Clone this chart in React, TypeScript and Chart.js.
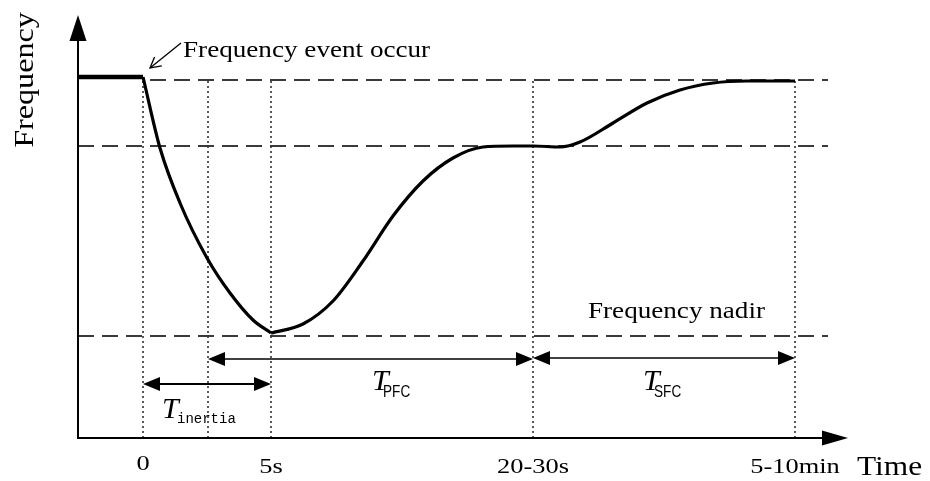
import React, { useEffect, useRef } from "react";
import { Chart, registerables } from "chart.js";

Chart.register(...registerables);

// ---- data (schematic units: x = time axis units, y = frequency units) ----
const preEventX = [0, 65];
const preEventY = [361, 361];
const dropX = [65, 82, 102, 129, 152, 175, 193];
const dropY = [361, 290, 235, 180, 145, 118, 105];
const recoveryX = [193, 225, 255, 285, 315, 345, 375, 405, 435, 455, 482, 502, 535, 569, 602, 635, 669, 717];
const recoveryY = [105, 114, 137, 177, 222, 257, 280, 291, 292, 292, 291, 296, 315, 335, 348, 355, 357, 357];
const levelY = [358, 292, 102]; // nominal, PFC-settled, nadir
const levelStartX = [72, 0, 0];
const levelEndX = 750;
const markerX = [65, 130, 193, 455, 717];
const markerTopY = [361, 358, 358, 358, 358];
const tickValues = [65, 193, 455, 717];
const tickLabels = ["0", "5s", "20-30s", "5-10min"];
const spanFrom = [65, 130, 455];
const spanTo = [193, 455, 717];
const spanY = [54, 79, 80];
const spanSub = ["inertia", "PFC", "SFC"];
const xMax = 770;
const yMax = 423;

const pts = (xs: number[], ys: number[]) => xs.map((x, i) => ({ x, y: ys[i] }));

function txt(
  ctx: CanvasRenderingContext2D,
  s: string,
  x: number,
  y: number,
  font: string,
  sx = 1,
  align: CanvasTextAlign = "left",
  rot = 0
) {
  ctx.save();
  ctx.translate(x, y);
  if (rot) ctx.rotate(rot);
  ctx.scale(sx, 1);
  ctx.font = font;
  ctx.textAlign = align;
  ctx.textBaseline = "alphabetic";
  ctx.fillStyle = "#000";
  ctx.fillText(s, 0, 0);
  ctx.restore();
}

function head(
  ctx: CanvasRenderingContext2D,
  tx: number,
  ty: number,
  dx: number,
  dy: number,
  len: number,
  hw: number
) {
  const bx = tx - dx * len;
  const by = ty - dy * len;
  const nx = -dy;
  const ny = dx;
  ctx.beginPath();
  ctx.moveTo(tx, ty);
  ctx.lineTo(bx + nx * hw, by + ny * hw);
  ctx.lineTo(bx - nx * hw, by - ny * hw);
  ctx.closePath();
  ctx.fill();
}

const overlay = {
  id: "overlay",
  afterDraw(chart: any) {
    const ctx: CanvasRenderingContext2D = chart.ctx;
    const xs = chart.scales.x;
    const ys = chart.scales.y;
    const X = (v: number) => xs.getPixelForValue(v);
    const Y = (v: number) => ys.getPixelForValue(v);
    ctx.save();
    ctx.strokeStyle = "#000";
    ctx.fillStyle = "#000";

    // axes with arrows
    const x0 = X(0);
    const y0 = Y(0);
    ctx.lineWidth = 2;
    ctx.beginPath();
    ctx.moveTo(x0, y0);
    ctx.lineTo(X(xMax) - 24, y0);
    ctx.stroke();
    head(ctx, X(xMax), y0, 1, 0, 26, 7.5);
    ctx.beginPath();
    ctx.moveTo(x0, y0 + 1);
    ctx.lineTo(x0, Y(yMax) + 24);
    ctx.stroke();
    head(ctx, x0, Y(yMax), 0, -1, 26, 8.5);

    // tick labels
    tickValues.forEach((v, i) => {
      txt(ctx, tickLabels[i], X(v), y0 + (i === 0 ? 32 : 35), "22px 'Liberation Serif'", 1.2, "center");
    });

    // axis titles
    txt(ctx, "Time", 857, y0 + 37, "28px 'Liberation Serif'", 1.12, "left");
    txt(ctx, "Frequency", 33, 80, "27px 'Liberation Serif'", 1.19, "center", -Math.PI / 2);

    // duration arrows
    spanFrom.forEach((f, i) => {
      const a = X(f);
      const b = X(spanTo[i]);
      const yy = Y(spanY[i]);
      ctx.lineWidth = i === 0 ? 2 : 1.3;
      ctx.beginPath();
      ctx.moveTo(a + 10, yy);
      ctx.lineTo(b - 10, yy);
      ctx.stroke();
      head(ctx, a, yy, -1, 0, 17, 7);
      head(ctx, b, yy, 1, 0, 17, 7);
    });

    // duration labels
    const tLeft = [162, 372, 643];
    const tBase = [418, 390, 390];
    spanSub.forEach((s, i) => {
      txt(ctx, "T", tLeft[i], tBase[i], "italic 30px 'Liberation Serif'", 1, "left");
      if (i === 0) {
        txt(ctx, s, tLeft[i] + 15, tBase[i] + 5, "14px 'Liberation Mono'", 1, "left");
      } else {
        txt(ctx, s, tLeft[i] + 11, tBase[i] + 7, "17px 'Liberation Sans'", 0.8, "left");
      }
    });

    // annotations
    txt(ctx, "Frequency event occur", 183, 57, "23px 'Liberation Serif'", 1.18, "left");
    txt(ctx, "Frequency nadir", 588, 318, "24px 'Liberation Serif'", 1.13, "left");

    // event pointer (open arrow)
    const tipX = X(72);
    const tipY = Y(370);
    const tailX = X(103);
    const tailY = Y(395);
    ctx.lineWidth = 1.3;
    ctx.beginPath();
    ctx.moveTo(tailX, tailY);
    ctx.lineTo(tipX, tipY);
    ctx.stroke();
    const ang = Math.atan2(tipY - tailY, tipX - tailX);
    ctx.beginPath();
    ctx.moveTo(tipX - 12 * Math.cos(ang - 0.5), tipY - 12 * Math.sin(ang - 0.5));
    ctx.lineTo(tipX, tipY);
    ctx.lineTo(tipX - 12 * Math.cos(ang + 0.5), tipY - 12 * Math.sin(ang + 0.5));
    ctx.stroke();
    ctx.restore();
  },
};

export default function App() {
  const ref = useRef<HTMLCanvasElement | null>(null);
  useEffect(() => {
    document.body.style.margin = "0";
    const canvas = ref.current;
    if (!canvas) return;
    const datasets: any[] = [];
    datasets.push({
      data: pts(dropX, dropY),
      borderColor: "#000",
      borderWidth: 3.2,
      cubicInterpolationMode: "monotone",
      pointRadius: 0,
      clip: false,
    });
    datasets.push({
      data: pts(recoveryX, recoveryY),
      borderColor: "#000",
      borderWidth: 3.2,
      cubicInterpolationMode: "monotone",
      pointRadius: 0,
      clip: false,
    });
    datasets.push({
      data: pts(preEventX, preEventY),
      borderColor: "#000",
      borderWidth: 4.5,
      pointRadius: 0,
      clip: false,
    });
    levelY.forEach((ly, i) => {
      datasets.push({
        data: [
          { x: levelStartX[i], y: ly },
          { x: levelEndX, y: ly },
        ],
        borderColor: "#3a3a3a",
        borderWidth: 2,
        borderDash: [16, 8],
        pointRadius: 0,
        clip: false,
      });
    });
    markerX.forEach((mx, i) => {
      datasets.push({
        data: [
          { x: mx, y: 0 },
          { x: mx, y: markerTopY[i] },
        ],
        borderColor: "#222",
        borderWidth: 1.5,
        borderDash: [2, 3],
        pointRadius: 0,
        clip: false,
      });
    });
    const chart = new Chart(canvas, {
      type: "line",
      data: { datasets },
      options: {
        responsive: false,
        animation: false,
        events: [],
        layout: { padding: { left: 78, right: 82, top: 15, bottom: 43 } },
        scales: {
          x: { type: "linear", min: 0, max: xMax, display: false },
          y: { type: "linear", min: 0, max: yMax, display: false },
        },
        plugins: { legend: { display: false }, tooltip: { enabled: false } },
      },
      plugins: [overlay],
    });
    return () => chart.destroy();
  }, []);
  return (
    <div style={{ width: 930, height: 481, background: "#fff" }}>
      <canvas ref={ref} width={930} height={481} style={{ display: "block" }} />
    </div>
  );
}
